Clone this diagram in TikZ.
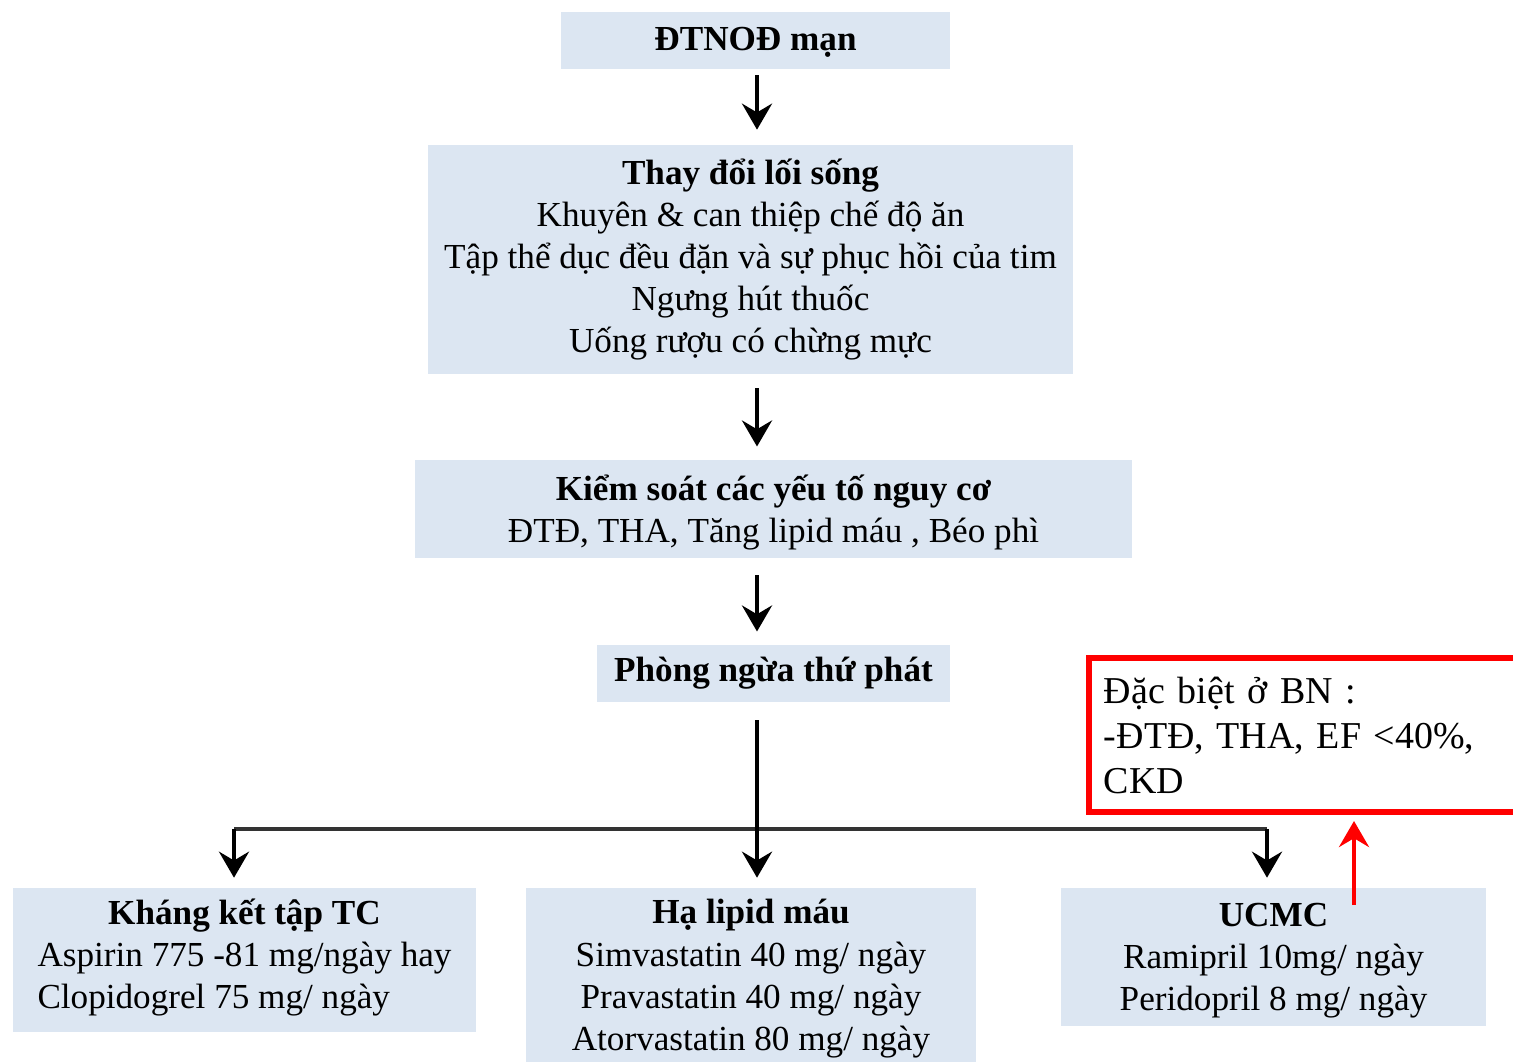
\documentclass[tikz,border=0pt]{standalone}
\usepackage{fontspec}
\setmainfont{Liberation Serif}
\usetikzlibrary{arrows.meta,positioning,calc}
\definecolor{boxblue}{RGB}{220,230,242}
\definecolor{alertred}{RGB}{255,0,0}
\tikzset{
  block/.style={rectangle, fill=boxblue, align=center, inner sep=0pt,
                font=\fontsize{25}{30}\selectfont},
  note/.style={rectangle, draw=alertred, line width=0.15cm, align=left, inner sep=0pt,
               font=\fontsize{27}{32}\selectfont},
  arrow/.style={-{Stealth[length=0.65cm, width=0.75cm, inset=0.22cm]}, line width=0.1cm, black},
  redarrow/.style={arrow, alertred},
  forkline/.style={line width=0.1cm, black!80},
}

\begin{document}
\begin{tikzpicture}[x=0.025cm, y=-0.025cm]
  \useasboundingbox (0,0) rectangle (1513,1062);
  \node[block, minimum width=9.725cm, minimum height=1.425cm, text depth=2pt] (chronic) at (755.5,40.5) {\textbf{ĐTNOĐ mạn}};
  \node[block, minimum width=16.125cm, minimum height=5.725cm] (lifestyle) at (750.5,259.5)
    {\textbf{Thay đổi lối sống}\\Khuyên \& can thiệp chế độ ăn\\Tập thể dục đều đặn và sự phục hồi của tim\\Ngưng hút thuốc\\Uống rượu có chừng mực};
  \node[block, minimum width=17.925cm, minimum height=2.45cm, text depth=-3pt] (risk) at (773.5,509)
    {\textbf{Kiểm soát các yếu tố nguy cơ}\\ĐTĐ, THA, Tăng lipid máu , Béo phì};
  \node[block, minimum width=8.825cm, minimum height=1.425cm] (prevent) at (773.5,673.5) {\textbf{Phòng ngừa thứ phát}};
  \node[block, minimum width=11.575cm, minimum height=3.6cm] (antiplt) at (244.5,960)
    {\textbf{Kháng kết tập TC}\\\begin{tabular}[t]{@{}l@{}}Aspirin 775 -81 mg/ngày hay\\Clopidogrel 75 mg/ ngày\end{tabular}};
  \node[block, minimum width=11.25cm, minimum height=4.35cm, text depth=-3pt] (lipid) at (751,975)
    {\textbf{Hạ lipid máu}\\Simvastatin 40 mg/ ngày\\Pravastatin 40 mg/ ngày\\Atorvastatin 80 mg/ ngày};
  \node[block, minimum width=10.625cm, minimum height=3.45cm, text depth=0pt] (acei) at (1273.5,957)
    {\textbf{UCMC}\\Ramipril 10mg/ ngày\\Peridopril 8 mg/ ngày};
  \node[note, minimum width=11.025cm, minimum height=3.85cm, text width=10.275cm] (special) at (1309.5,735)
    {Đặc biệt ở BN :\\-ĐTĐ, THA, EF <40\%,\\CKD};
  \coordinate (spine) at (757,0);
  \coordinate (forkL) at (234,829);
  \coordinate (forkR) at (1267,829);
  \coordinate (redfoot) at (1354,905);
  \draw[arrow, shorten <=0.15cm, shorten >=0.375cm] (chronic.south -| spine) -- (lifestyle.north -| spine);
  \draw[arrow, shorten <=0.35cm, shorten >=0.33cm] (lifestyle.south -| spine) -- (risk.north -| spine);
  \draw[arrow, shorten <=0.42cm, shorten >=0.33cm] (risk.south -| spine) -- (prevent.north -| spine);
  \draw[forkline] (forkL) -- (forkR);
  \draw[arrow, shorten <=0.45cm, shorten >=0.25cm] (prevent.south -| spine) -- (lipid.north -| spine);
  \draw[arrow, shorten >=0.25cm] (forkL) -- (forkL |- antiplt.north);
  \draw[arrow, shorten >=0.25cm] (forkR) -- (forkR |- acei.north);
  \draw[redarrow, shorten >=0.15cm] (redfoot) -- (redfoot |- special.south);
\end{tikzpicture}
\end{document}
